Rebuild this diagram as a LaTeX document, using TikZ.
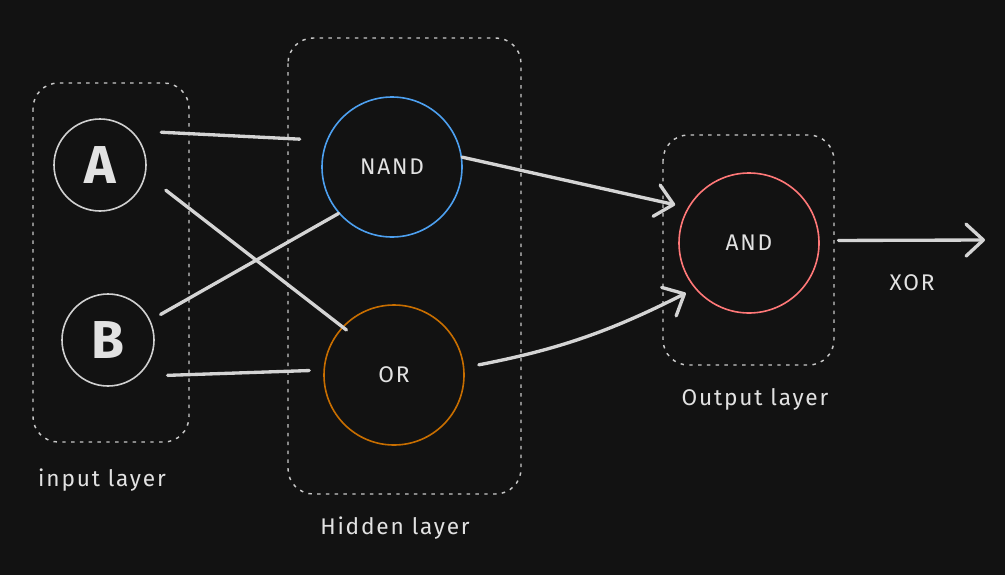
\documentclass[tikz,border=0pt]{standalone}
\usepackage{fontspec}
\setmainfont{Fira Sans}
\newfontfamily\wide[LetterSpace=8]{Fira Sans}
\usetikzlibrary{arrows.meta,calc}
\definecolor{bg}{HTML}{121212}
\definecolor{boxgray}{HTML}{C8C8C8}
\definecolor{wiregray}{HTML}{D4D4D4}
\definecolor{txt}{HTML}{E2E2E2}
\definecolor{ringgray}{HTML}{D0D0D0}
\definecolor{nandblue}{HTML}{4DA0F0}
\definecolor{ororange}{HTML}{C86E00}
\definecolor{andred}{HTML}{FF7878}
\begin{document}
\begin{tikzpicture}[x=0.75pt,y=-0.75pt,
  layerbox/.style={draw=boxgray, line width=1.1pt, dash pattern=on 2.6pt off 4pt, rounded corners=19pt},
  neuron/.style={circle, draw, line width=1.2pt, inner sep=0pt, text=txt},
  small/.style={neuron, minimum size=69pt, font=\fontsize{40}{44}\selectfont\bfseries},
  big/.style={neuron, minimum size=105pt, font=\wide\fontsize{17}{20}\selectfont},
  wire/.style={draw=wiregray, line width=2.5pt, line cap=round},
  arrowwire/.style={wire, -{Straight Barb[length=13pt,width=24pt,round]}},
  lbl/.style={text=txt, font=\wide\fontsize{17}{20}\selectfont}
]
\fill[bg] (0,0) rectangle (1005,575);
\useasboundingbox (0,0) rectangle (1005,575);

% layer frames
\draw[layerbox] (33,83) rectangle (189,442);
\draw[layerbox] (288,38) rectangle (521,494);
\draw[layerbox] (663,135) rectangle (834,365);

% neurons
\node[small, draw=ringgray] (A) at (100,165) {A};
\node[small, draw=ringgray] (B) at (108,340) {B};
\node[big, draw=nandblue] (NAND) at (392,167) {NAND};
\node[big, draw=ororange] (OR) at (394,375) {OR};
\node[big, draw=andred] (AND) at (749,243) {AND};
\coordinate (out) at (985,240);

% labels
\node[lbl] (inlbl) at (102,480) {input layer};
\node[lbl] (hidlbl) at (395,528) {Hidden layer};
\node[lbl] (outlbl) at (755,399) {Output layer};
\node[lbl] (xorlbl) at (912,283) {XOR};

% connectors
\draw[wire, shorten <=22pt, shorten >=20pt] (A.47) -- (NAND.158);
\draw[wire, shorten <=19pt, shorten >=-4pt] (A.-12) -- (OR.137);
\draw[wire, shorten <=8.8pt] (B.25) -- (NAND.221);
\draw[wire, shorten <=22.6pt, shorten >=10.6pt] (B.-51) -- (OR.176);
\draw[arrowwire, shorten >=9.6pt] (NAND.8) -- (AND.150);
\draw[arrowwire, shorten <=11pt, shorten >=7.5pt] (OR.6) to[bend right=8] (AND.220);
\draw[arrowwire, shorten <=14pt] (AND.2) -- (out);
\end{tikzpicture}
\end{document}
